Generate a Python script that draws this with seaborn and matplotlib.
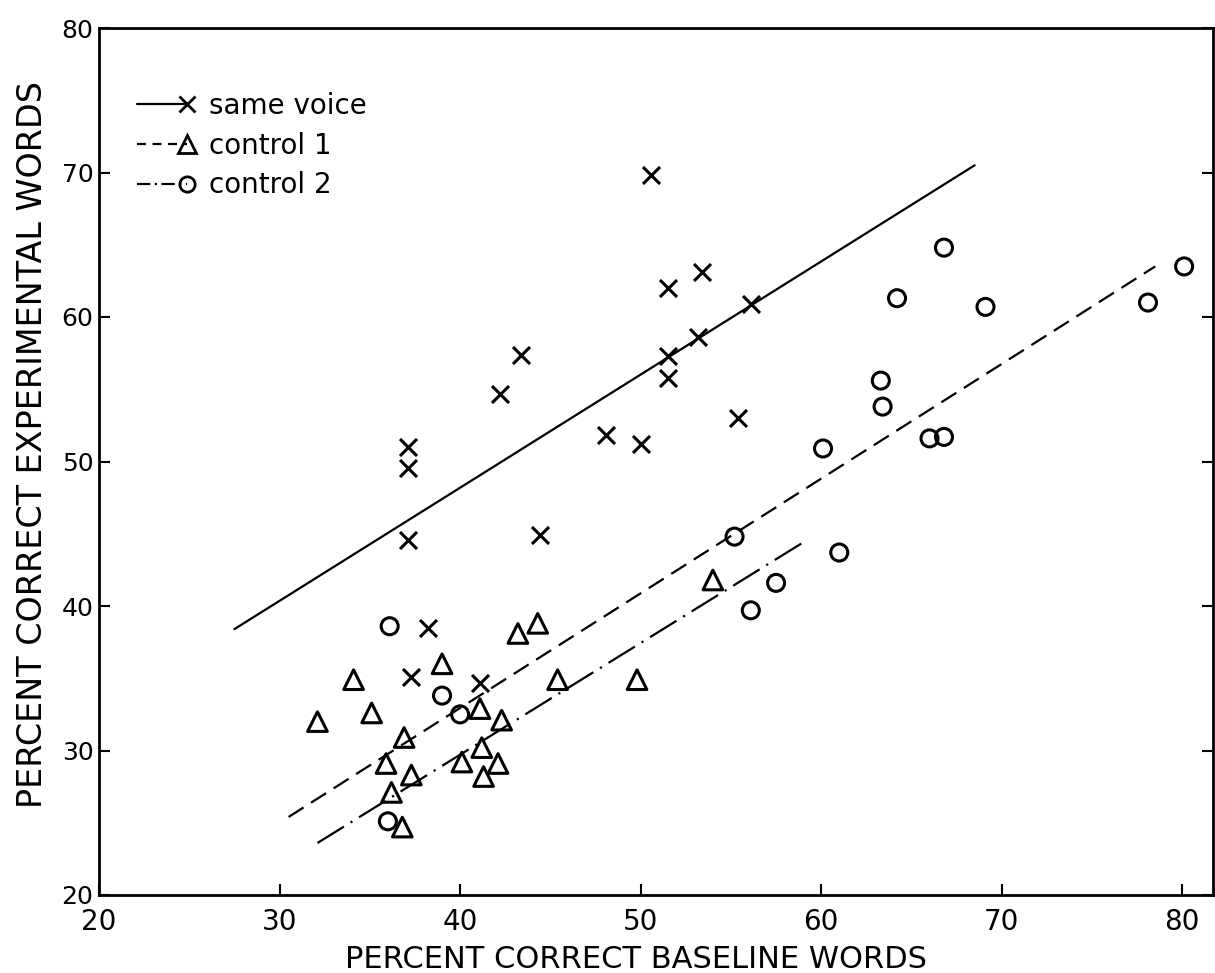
import matplotlib
matplotlib.use("Agg")
import matplotlib.pyplot as plt
from matplotlib.lines import Line2D
from matplotlib.legend_handler import HandlerLine2D
import seaborn as sns

# ---- data ----
same_x = [37.1, 37.1, 37.1, 37.3, 38.2, 41.1, 42.2, 43.35, 44.4, 48.1, 50.0, 50.55,
          51.5, 51.5, 51.5, 53.2, 53.4, 55.4, 56.1]
same_y = [51.0, 49.55, 44.6, 35.1, 38.5, 34.7, 54.7, 57.4, 44.9, 51.8, 51.2, 69.8,
          62.0, 57.3, 55.8, 58.6, 63.1, 53.0, 60.9]

c1_x = [32.1, 34.1, 35.1, 35.9, 36.2, 36.8, 36.9, 37.3, 39.0, 40.1, 41.1, 41.2,
        41.3, 42.1, 42.3, 43.2, 44.3, 45.4, 49.8, 54.0]
c1_y = [32.0, 34.9, 32.6, 29.1, 27.1, 24.7, 30.9, 28.3, 36.0, 29.2, 32.9, 30.2,
        28.2, 29.1, 32.1, 38.1, 38.8, 34.9, 34.9, 41.8]

c2_x = [36.0, 36.1, 39.0, 40.0, 55.2, 56.1, 57.5, 60.1, 61.0, 63.3, 63.4, 64.2,
        66.0, 66.8, 66.8, 69.1, 78.1, 80.1]
c2_y = [25.1, 38.6, 33.8, 32.5, 44.8, 39.7, 41.6, 50.9, 43.7, 55.6, 53.8, 61.3,
        51.6, 51.7, 64.8, 60.7, 61.0, 63.5]

# regression lines (end points)
fit_same_x = [27.5, 68.5]
fit_same_y = [38.4, 70.5]
fit_c1_x = [30.5, 78.5]
fit_c1_y = [25.4, 63.5]
fit_c2_x = [32.1, 59.0]
fit_c2_y = [23.6, 44.4]

labels = ["same voice", "control 1", "control 2"]
x_ticks = [20, 30, 40, 50, 60, 70, 80]
y_ticks = [20, 30, 40, 50, 60, 70, 80]

# ---- figure ----
sns.set_theme(style="white")
plt.rcParams["font.family"] = ["DejaVu Sans"]

fig = plt.figure(figsize=(12.15, 9.73), dpi=100)
ax = fig.add_axes([99 / 1215, 78 / 973, (1213 - 99) / 1215, (895 - 28) / 973])

lw = 1.6
dash_style = (0, (8, 4))
dashdot_style = (0, (14, 3.5, 1, 3.5))

sns.lineplot(x=fit_same_x, y=fit_same_y, ax=ax, color="black", lw=lw, linestyle="-")
sns.lineplot(x=fit_c1_x, y=fit_c1_y, ax=ax, color="black", lw=lw, linestyle=dash_style)
sns.lineplot(x=fit_c2_x, y=fit_c2_y, ax=ax, color="black", lw=lw, linestyle=dashdot_style)

sns.scatterplot(x=same_x, y=same_y, ax=ax, marker="x", s=150, color="black",
                linewidth=2.2, zorder=3)
sns.scatterplot(x=c1_x, y=c1_y, ax=ax, marker="^", s=200, facecolor="none",
                edgecolor="black", linewidth=2.2, zorder=3)
sns.scatterplot(x=c2_x, y=c2_y, ax=ax, marker="o", s=150, facecolor="none",
                edgecolor="black", linewidth=2.2, zorder=3)

ax.set_xlim(20, 81.7)
ax.set_ylim(20, 80)
ax.set_xticks(x_ticks)
ax.set_yticks(y_ticks)
ax.set_xticklabels([str(t) for t in x_ticks], fontsize=20)
ax.set_yticklabels([str(t) for t in y_ticks], fontsize=18)
ax.tick_params(axis="both", direction="in", length=8, width=1.5, colors="black")
ax.tick_params(axis="x", bottom=True, top=False, pad=9)
ax.tick_params(axis="y", right=True, left=True, pad=4)

for sp in ax.spines.values():
    sp.set_visible(True)
    sp.set_color("black")
    sp.set_linewidth(2)

ax.set_xlabel("PERCENT CORRECT BASELINE WORDS", fontsize=22, color="black")
ax.set_ylabel("PERCENT CORRECT EXPERIMENTAL WORDS", fontsize=24, color="black")
ax.xaxis.set_label_coords(0.482, -0.058)
ax.yaxis.set_label_coords(-0.045, 0.52)


class EndMarkerHandler(HandlerLine2D):
    """Legend sample: line with the marker only at its right end."""

    def create_artists(self, *args, **kwargs):
        artists = super().create_artists(*args, **kwargs)
        for a in artists:
            xd = a.get_xdata()
            a.set_markevery([len(xd) - 1])
        return artists


handles = [
    Line2D([], [], color="black", lw=lw, linestyle="-", marker="x", ms=11, mew=2),
    Line2D([], [], color="black", lw=lw, linestyle=(0, (4, 3)), marker="^", ms=13,
           mew=2, mfc="none"),
    Line2D([], [], color="black", lw=lw, linestyle=(0, (6, 2, 1, 2)), marker="o",
           ms=11, mew=2, mfc="none"),
]
ax.legend(handles, labels, loc="upper left", bbox_to_anchor=(0.004, 0.955),
          frameon=False, numpoints=2, handlelength=2.4, handletextpad=0.5,
          labelspacing=0.42, fontsize=20, labelcolor="black",
          handler_map={h: EndMarkerHandler() for h in handles})

fig.savefig("out.png", dpi=100)
